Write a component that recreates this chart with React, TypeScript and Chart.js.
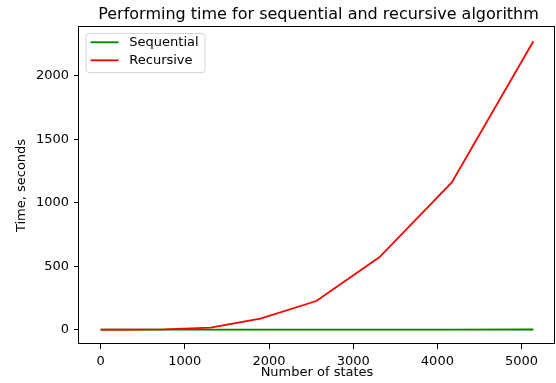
import React, { useEffect, useRef } from "react";
import { Chart, registerables } from "chart.js";

Chart.register(...registerables);

const chartTitle = "Performing time for sequential and recursive algorithm";
const xAxisTitle = "Number of states";
const yAxisTitle = "Time, seconds";
const seriesNames = ["Sequential", "Recursive"];
const seriesColors = ["#008000", "#ff0000"];

const numberOfStates = [0, 290, 760, 1305, 1898, 2562, 3310, 4171, 5140];
const sequentialTimes = [0, 0, 0.05, 0.1, 0.2, 0.3, 0.4, 0.5, 0.7];
const recursiveTimes = [0, 0.1, 2, 15, 87, 225, 570, 1160, 2272];

const xTickValues = [0, 1000, 2000, 3000, 4000, 5000];
const yTickValues = [0, 500, 1000, 1500, 2000];

const xMin = -257;
const xMax = 5397;
const yMin = -113.5;
const yMax = 2384.5;

const FONT = "'DejaVu Sans', sans-serif";

const decorPlugin = {
  id: "decor",
  afterDraw(chart: any) {
    const { ctx, chartArea } = chart;
    const { left, right, top, bottom } = chartArea;
    ctx.save();
    ctx.strokeStyle = "#000";
    ctx.lineWidth = 1;
    ctx.strokeRect(Math.round(left) - 0.5, Math.round(top) - 0.5, Math.round(right - left), Math.round(bottom - top));
    ctx.fillStyle = "#000";
    ctx.font = `16px ${FONT}`;
    ctx.textAlign = "center";
    ctx.textBaseline = "alphabetic";
    ctx.fillText(chartTitle, 318.5, 19);
    ctx.font = `13px ${FONT}`;
    ctx.textBaseline = "middle";
    ctx.fillText(xAxisTitle, (left + right) / 2, 373);
    ctx.save();
    ctx.translate(21.5, (top + bottom) / 2);
    ctx.rotate(-Math.PI / 2);
    ctx.fillText(yAxisTitle, 0, 0);
    ctx.restore();
    const bx = 86, by = 33.5, bw = 119, bh = 39;
    ctx.beginPath();
    const r = 3;
    ctx.moveTo(bx + r, by);
    ctx.lineTo(bx + bw - r, by);
    ctx.arcTo(bx + bw, by, bx + bw, by + r, r);
    ctx.lineTo(bx + bw, by + bh - r);
    ctx.arcTo(bx + bw, by + bh, bx + bw - r, by + bh, r);
    ctx.lineTo(bx + r, by + bh);
    ctx.arcTo(bx, by + bh, bx, by + bh - r, r);
    ctx.lineTo(bx, by + r);
    ctx.arcTo(bx, by, bx + r, by, r);
    ctx.closePath();
    ctx.fillStyle = "rgba(255,255,255,0.8)";
    ctx.fill();
    ctx.strokeStyle = "#d5d5d5";
    ctx.stroke();
    ctx.textAlign = "left";
    ctx.textBaseline = "middle";
    seriesNames.forEach((name, i) => {
      const y = 42.3 + i * 18;
      ctx.strokeStyle = seriesColors[i];
      ctx.lineWidth = 1.8;
      ctx.beginPath();
      ctx.moveTo(90.5, y);
      ctx.lineTo(118.5, y);
      ctx.stroke();
      ctx.fillStyle = "#000";
      ctx.fillText(name, 129.3, y);
    });
    ctx.restore();
  },
};

export default function App() {
  const canvasRef = useRef<HTMLCanvasElement | null>(null);

  useEffect(() => {
    document.body.style.margin = "0";
    const canvas = canvasRef.current;
    if (!canvas) return;
    const datasets = [sequentialTimes, recursiveTimes].map((vals, i) => ({
      label: seriesNames[i],
      data: numberOfStates.map((x, j) => ({ x, y: vals[j] })),
      borderColor: seriesColors[i],
      backgroundColor: seriesColors[i],
      borderWidth: 1.8,
      pointRadius: 0,
      tension: 0,
      fill: false,
      order: i === 0 ? 2 : 1,
    }));
    const tickFont = { family: FONT, size: 13 };
    const chart = new Chart(canvas, {
      type: "line",
      data: { datasets },
      plugins: [decorPlugin],
      options: {
        animation: false,
        responsive: false,
        maintainAspectRatio: false,
        devicePixelRatio: 1,
        layout: { padding: { top: 27, right: 1, left: 0, bottom: 0 } },
        plugins: {
          legend: { display: false },
          title: { display: false },
          tooltip: { enabled: false },
        },
        scales: {
          x: {
            type: "linear",
            min: xMin,
            max: xMax,
            afterBuildTicks: (s: any) => {
              s.ticks = xTickValues.map((v) => ({ value: v }));
            },
            afterFit: (s: any) => {
              s.height = 39;
            },
            border: { display: false },
            grid: {
              display: true,
              drawOnChartArea: false,
              drawTicks: true,
              tickLength: 5,
              color: "#000",
            },
            ticks: {
              maxRotation: 0,
              autoSkip: false,
              padding: 5,
              color: "#000",
              font: tickFont,
              callback: (v: any) => String(v),
            },
          },
          y: {
            type: "linear",
            min: yMin,
            max: yMax,
            afterBuildTicks: (s: any) => {
              s.ticks = yTickValues.map((v) => ({ value: v }));
            },
            afterFit: (s: any) => {
              s.width = 79;
            },
            border: { display: false },
            grid: {
              display: true,
              drawOnChartArea: false,
              drawTicks: true,
              tickLength: 5,
              color: "#000",
            },
            ticks: {
              autoSkip: false,
              padding: 5,
              color: "#000",
              font: tickFont,
              callback: (v: any) => String(v),
            },
          },
        },
      } as any,
    });
    return () => chart.destroy();
  }, []);

  return (
    <div style={{ position: "absolute", left: 0, top: 0, width: 556, height: 383, background: "#fff" }}>
      <canvas ref={canvasRef} width={556} height={383} style={{ width: 556, height: 383, display: "block" }} />
    </div>
  );
}
